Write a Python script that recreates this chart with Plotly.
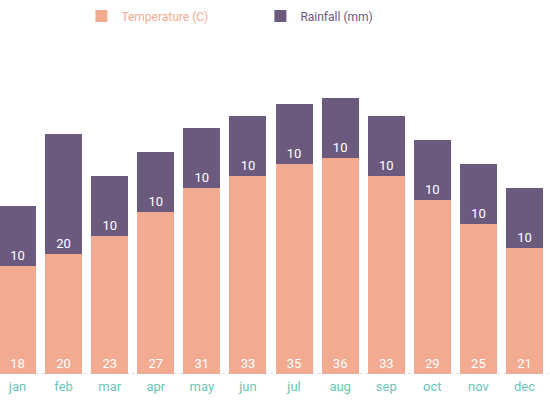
import plotly.graph_objects as go

months = ["jan", "feb", "mar", "apr", "may", "jun", "jul", "aug", "sep", "oct", "nov", "dec"]
temperature = [18, 20, 23, 27, 31, 33, 35, 36, 33, 29, 25, 21]
rainfall = [10, 20, 10, 10, 10, 10, 10, 10, 10, 10, 10, 10]

temp_color = "#F2AA91"
rain_color = "#6B5A7E"
tick_color = "#6CC5B8"

fig = go.Figure()
fig.add_trace(go.Bar(
    x=months, y=temperature,
    name=f"<span style='color:{temp_color}'>Temperature (C)</span>",
    marker=dict(color=temp_color, line=dict(width=0)),
    text=[str(v) for v in temperature], textposition="inside",
    insidetextanchor="start",
    textfont=dict(color="white", size=13, family="Roboto"),
))
fig.add_trace(go.Bar(
    x=months, y=rainfall,
    name=f"<span style='color:{rain_color}'>Rainfall (mm)</span>",
    marker=dict(color=rain_color, line=dict(width=0)),
    text=[str(v) for v in rainfall], textposition="inside",
    insidetextanchor="start",
    textfont=dict(color="white", size=13, family="Roboto"),
))

fig.update_layout(
    barmode="stack",
    bargap=0.197,
    width=550, height=400,
    margin=dict(l=0, r=0, t=40, b=26, autoexpand=False),
    paper_bgcolor="white", plot_bgcolor="white",
    font=dict(family="Roboto", size=13),
    showlegend=True,
    legend=dict(orientation="h", x=0.148, xref="container", y=0.96, yref="container",
                xanchor="left", yanchor="middle", traceorder="normal",
                entrywidth=134, entrywidthmode="pixels",
                font=dict(size=12, family="Roboto")),
    xaxis=dict(range=[-0.38, 11.553], showgrid=False, zeroline=False, showline=False,
               automargin=False, ticks="", ticklabelstandoff=3,
               tickfont=dict(color=tick_color, size=13, family="Roboto")),
    yaxis=dict(range=[0, 55.67], visible=False, automargin=False),
    uniformtext=dict(minsize=8, mode="show"),
)
fig.add_shape(type="line", xref="paper", x0=0, x1=1, yref="y", y0=0, y1=0,
              line=dict(color="#BBBBBB", width=1, dash="dot"), layer="above")

fig.write_html("out.html", config={"displayModeBar": False},
               post_script="document.body.style.margin='0';")
